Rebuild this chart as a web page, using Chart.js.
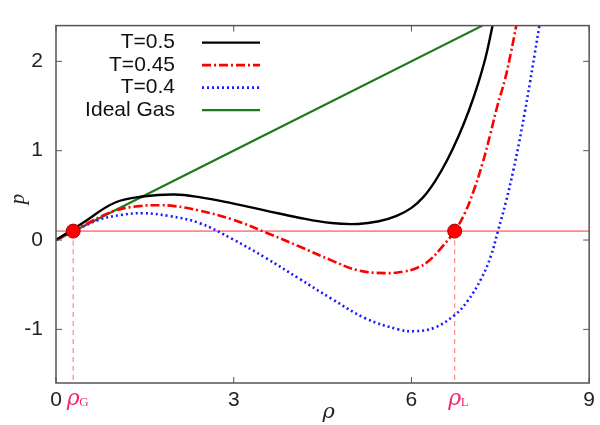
<!DOCTYPE html>
<html><head><meta charset="utf-8">
<script src="https://cdn.jsdelivr.net/npm/chart.js@4/dist/chart.umd.min.js"></script>
<style>html,body{margin:0;padding:0;background:#fff}#wrap{width:600px;height:425px}</style>
</head><body><div id="wrap"><canvas id="c" width="600" height="425"></canvas></div>
<script>
// ---- data ----
const xTicks = [0, 3, 6, 9];
const yTicks = [-1, 0, 1, 2];
const seriesLabels = ['T=0.5', 'T=0.45', 'T=0.4', 'Ideal Gas'];

const rhoT05 = [0, 0.45, 1.0, 1.5, 2.0, 2.42, 2.98, 3.54, 4.10, 4.65, 5.10, 5.45, 5.75, 6.0, 6.2, 6.4, 6.6, 6.8, 6.97, 7.12, 7.25, 7.37];
const pT05   = [0, 0.19, 0.42, 0.49, 0.51, 0.48, 0.41, 0.33, 0.25, 0.19, 0.18, 0.21, 0.27, 0.36, 0.48, 0.66, 0.89, 1.17, 1.45, 1.74, 2.04, 2.4];

const rhoT045 = [0, 0.3, 0.6, 1.0, 1.4, 1.75, 2.0, 2.42, 2.98, 3.54, 4.10, 4.66, 5.10, 5.55, 5.85, 6.1, 6.3, 6.5, 6.73, 6.9, 7.05, 7.2, 7.33, 7.45, 7.58, 7.68, 7.77];
const pT045   = [0, 0.10, 0.21, 0.33, 0.38, 0.39, 0.38, 0.33, 0.23, 0.085, -0.07, -0.23, -0.34, -0.37, -0.355, -0.31, -0.23, -0.09, 0.10, 0.30, 0.55, 0.86, 1.18, 1.5, 1.8, 2.1, 2.4];

const rhoT04 = [0, 0.3, 0.74, 1.1, 1.46, 1.9, 2.42, 2.98, 3.54, 4.10, 4.66, 5.22, 5.78, 6.06, 6.39, 6.73, 6.95, 7.18, 7.34, 7.46, 7.6, 7.72, 7.82, 7.91, 8.0, 8.08, 8.16];
const pT04   = [0, 0.10, 0.23, 0.28, 0.30, 0.27, 0.19, 0.01, -0.20, -0.43, -0.66, -0.875, -1.0, -1.02, -0.98, -0.84, -0.68, -0.43, -0.18, 0.10, 0.44, 0.78, 1.10, 1.42, 1.76, 2.08, 2.4];

const rhoIdeal = [0, 7.2];
const pIdeal   = [0, 2.4];

const coexP = 0.1;          // coexistence pressure (horizontal line)
const rhoG = 0.29;          // gas density
const rhoL = 6.73;          // liquid density
const xMin = 0, xMax = 9, yMin = -1.6, yMax = 2.4;

// ---- build datasets ----
const pts = (xs, ys) => xs.map((x, i) => ({x, y: ys[i]}));
const pink = '#ff8a8a';
const labelPink = '#f0286e';

const datasets = [
  {label: seriesLabels[0], data: pts(rhoT05, pT05), borderColor: '#000000', borderWidth: 2.4, borderDash: [], order: 3},
  {label: seriesLabels[1], data: pts(rhoT045, pT045), borderColor: '#ff0000', borderWidth: 2.6, borderDash: [9, 3, 2, 3], order: 4},
  {label: seriesLabels[2], data: pts(rhoT04, pT04), borderColor: '#1a1aff', borderWidth: 2.6, borderDash: [2, 3], order: 5},
  {label: seriesLabels[3], data: pts(rhoIdeal, pIdeal), borderColor: '#1d7a1d', borderWidth: 2.2, borderDash: [], order: 6},
  {label: 'coex', data: pts([xMin, xMax], [coexP, coexP]), borderColor: pink, borderWidth: 1.6, order: 7},
  {label: 'vG', data: pts([rhoG, rhoG], [coexP, yMin]), borderColor: pink, borderWidth: 1.2, borderDash: [5, 4], order: 8},
  {label: 'vL', data: pts([rhoL, rhoL], [coexP, yMin]), borderColor: pink, borderWidth: 1.2, borderDash: [5, 4], order: 9},
  {label: 'dots', data: pts([rhoG, rhoL], [coexP, coexP]), showLine: false, pointRadius: 7, pointBackgroundColor: '#ff0000', pointBorderColor: '#b00000', pointBorderWidth: 1, order: 1}
];
datasets.forEach(d => {
  d.fill = false; d.tension = 0.4;
  if (d.pointRadius === undefined) d.pointRadius = 0;
});

const frameColor = '#555';
const decor = {
  id: 'decor',
  afterDatasetsDraw(chart) {
    const ctx = chart.ctx, a = chart.chartArea, xs = chart.scales.x, ys = chart.scales.y;
    ctx.save();
    // frame
    ctx.strokeStyle = frameColor; ctx.lineWidth = 1.5; ctx.setLineDash([]);
    ctx.strokeRect(a.left, a.top, a.right - a.left, a.bottom - a.top);
    // inward ticks on all four sides
    ctx.lineWidth = 1;
    const tl = 6;
    xTicks.forEach(v => {
      const px = xs.getPixelForValue(v);
      ctx.beginPath(); ctx.moveTo(px, a.bottom); ctx.lineTo(px, a.bottom - tl);
      ctx.moveTo(px, a.top); ctx.lineTo(px, a.top + tl); ctx.stroke();
    });
    yTicks.forEach(v => {
      const py = ys.getPixelForValue(v);
      ctx.beginPath(); ctx.moveTo(a.left, py); ctx.lineTo(a.left + tl, py);
      ctx.moveTo(a.right, py); ctx.lineTo(a.right - tl, py); ctx.stroke();
    });
    // legend inside top-left
    ctx.font = '21px "Liberation Sans", Arial, sans-serif';
    ctx.textAlign = 'right'; ctx.textBaseline = 'middle'; ctx.fillStyle = '#111';
    for (let i = 0; i < 4; i++) {
      const d = chart.data.datasets[i];
      const y = a.top + 17 + i * 22.5;
      ctx.fillText(d.label, a.left + 119, y);
      ctx.strokeStyle = d.borderColor; ctx.lineWidth = d.borderWidth;
      ctx.setLineDash(d.borderDash || []);
      ctx.beginPath(); ctx.moveTo(a.left + 146, y); ctx.lineTo(a.left + 204, y); ctx.stroke();
    }
    ctx.setLineDash([]);
    // density labels under axis
    const sub = (x, s) => {
      ctx.fillStyle = labelPink; ctx.textBaseline = 'alphabetic';
      ctx.font = 'italic 22px "DejaVu Serif", "Liberation Serif", serif';
      ctx.textAlign = 'center';
      ctx.fillText('\u03c1', x, a.bottom + 22);
      ctx.font = '13px "Liberation Serif", serif';
      ctx.textAlign = 'left';
      ctx.fillText(s, x + 6, a.bottom + 23);
    };
    sub(xs.getPixelForValue(rhoG), 'G');
    sub(xs.getPixelForValue(rhoL), 'L');
    // axis titles
    ctx.fillStyle = '#222'; ctx.textAlign = 'center'; ctx.textBaseline = 'middle';
    ctx.font = 'italic 21px "DejaVu Serif", "Liberation Serif", serif';
    ctx.fillText('\u03c1', (a.left + a.right) / 2 + 6, a.bottom + 30);
    ctx.save();
    ctx.translate(18, 199); ctx.rotate(-Math.PI / 2);
    ctx.font = 'italic 21px "Liberation Serif", serif';
    ctx.fillText('p', 0, 0);
    ctx.restore();
    ctx.restore();
  }
};

new Chart(document.getElementById('c'), {
  type: 'line',
  data: {datasets},
  options: {
    responsive: false, animation: false,
    layout: {padding: {top: 8, right: 8, left: 0, bottom: 0}},
    plugins: {legend: {display: false}, tooltip: {enabled: false}},
    scales: {
      x: {
        type: 'linear', min: xMin, max: xMax,
        afterBuildTicks: s => { s.ticks = xTicks.map(v => ({value: v})); },
        afterFit: s => { s.height = 42; },
        grid: {display: false, drawTicks: false},
        border: {display: false},
        ticks: {padding: 5, color: '#222', font: {family: '"Liberation Sans", Arial, sans-serif', size: 21}, maxRotation: 0}
      },
      y: {
        type: 'linear', min: yMin, max: yMax,
        afterBuildTicks: s => { s.ticks = yTicks.map(v => ({value: v})); },
        afterFit: s => { s.width = 56; },
        grid: {display: false, drawTicks: false},
        border: {display: false},
        ticks: {padding: 13, color: '#222', font: {family: '"Liberation Sans", Arial, sans-serif', size: 21}}
      }
    }
  },
  plugins: [decor]
});
</script>
</body></html>
